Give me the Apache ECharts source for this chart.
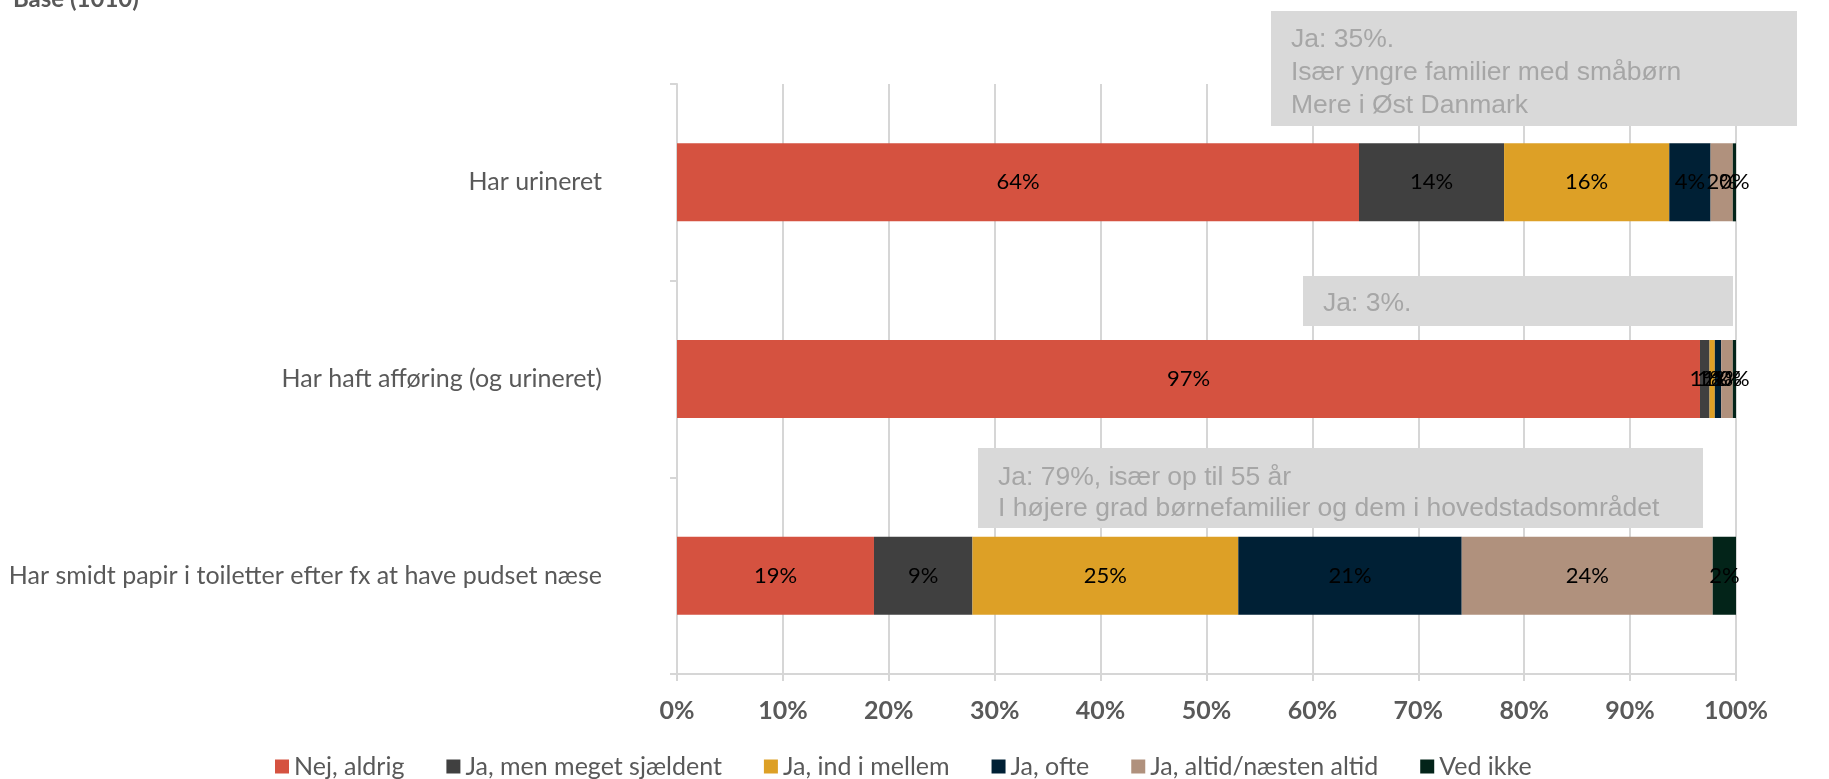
<!DOCTYPE html>
<html>
<head>
<meta charset="utf-8">
<script src="https://cdn.jsdelivr.net/npm/echarts@6/dist/echarts.min.js"></script>
<style>
html,body{margin:0;padding:0;background:#fff;}
#chart{width:1829px;height:779px;}
</style>
</head>
<body>
<div id="chart"></div>
<script>
const categories = ['Har urineret', 'Har haft afføring (og urineret)', 'Har smidt papir i toiletter efter fx at have pudset næse'];
const seriesNames = ['Nej, aldrig', 'Ja, men meget sjældent', 'Ja, ind i mellem', 'Ja, ofte', 'Ja, altid/næsten altid', 'Ved ikke'];
const nejAldrig = [64.4, 96.6, 18.6];
const jaSjaeldent = [13.7, 0.9, 9.3];
const jaIndImellem = [15.6, 0.5, 25.1];
const jaOfte = [3.9, 0.6, 21.1];
const jaAltid = [2.1, 1.1, 23.7];
const vedIkke = [0.3, 0.3, 2.2];
const seriesValues = [nejAldrig, jaSjaeldent, jaIndImellem, jaOfte, jaAltid, vedIkke];
const colors = ['#D55240', '#404040', '#DDA026', '#002035', '#B0917D', '#032419'];
const baseText = 'Base (1010)';
const notes = [
  ['Ja: 35%.', 'Især yngre familier med småbørn', 'Mere i Øst Danmark'],
  ['Ja: 3%.'],
  ['Ja: 79%, især op til 55 år', 'I højere grad børnefamilier og dem i hovedstadsområdet']
];

const chart = echarts.init(document.getElementById('chart'));
const labelFont = 'Lato';
const gridColor = '#d6d6d6';

const series = seriesNames.map((name, i) => ({
  name: name,
  type: 'bar',
  stack: 'total',
  barWidth: 78,
  data: seriesValues[i],
  itemStyle: { color: colors[i] },
  label: {
    show: true,
    position: 'inside',
    color: '#000',
    fontFamily: labelFont,
    fontSize: 22,
    formatter: p => Math.round(p.value) + '%'
  },
  emphasis: { disabled: true }
}));

function noteBox(x, y, w, h, lines, tx, ty, lh) {
  return [
    { type: 'rect', shape: { x: x, y: y, width: w, height: h }, style: { fill: '#d9d9d9' }, z: 100 },
    { type: 'text', x: tx, y: ty, z: 101,
      style: { text: lines.join('\n'), fill: '#a6a6a6', font: '26.5px "Liberation Sans"', lineHeight: lh, verticalAlign: 'top', align: 'left' } }
  ];
}

chart.setOption({
  animation: false,
  color: colors,
  grid: { left: 677, right: 93, top: 84, bottom: 105, containLabel: false },
  xAxis: {
    type: 'value', min: 0, max: 100, interval: 10,
    axisLine: { show: true, lineStyle: { color: gridColor, width: 2 } },
    axisTick: { show: true, length: 7, lineStyle: { color: gridColor, width: 2 } },
    splitLine: { show: true, lineStyle: { color: gridColor, width: 2 } },
    axisLabel: { formatter: v => v + '%', color: '#595959', fontFamily: labelFont, fontWeight: 'bold', fontSize: 25, margin: 24 }
  },
  yAxis: {
    type: 'category', inverse: true, data: categories,
    axisLine: { show: true, lineStyle: { color: gridColor, width: 2 } },
    axisTick: { show: true, length: 7, lineStyle: { color: gridColor, width: 2 } },
    axisLabel: { color: '#595959', fontFamily: labelFont, fontSize: 25, margin: 75 }
  },
  legend: {
    left: 270, top: 749,
    itemWidth: 14, itemHeight: 14, itemGap: 42, icon: 'rect',
    textStyle: { color: '#595959', fontFamily: labelFont, fontSize: 25 },
    data: seriesNames
  },
  graphic: [
    { type: 'text', x: 13, y: 11, z: 101,
      style: { text: baseText, fill: '#595959', font: 'bold 24px Lato', verticalAlign: 'bottom' } },
    ...noteBox(1271, 11, 526, 115, notes[0], 1291, 23, 33),
    ...noteBox(1303, 276, 430, 50, notes[1], 1323, 288, 32),
    ...noteBox(978, 448, 725, 80, notes[2], 998, 462, 31)
  ],
  series: series
});
</script>
</body>
</html>
